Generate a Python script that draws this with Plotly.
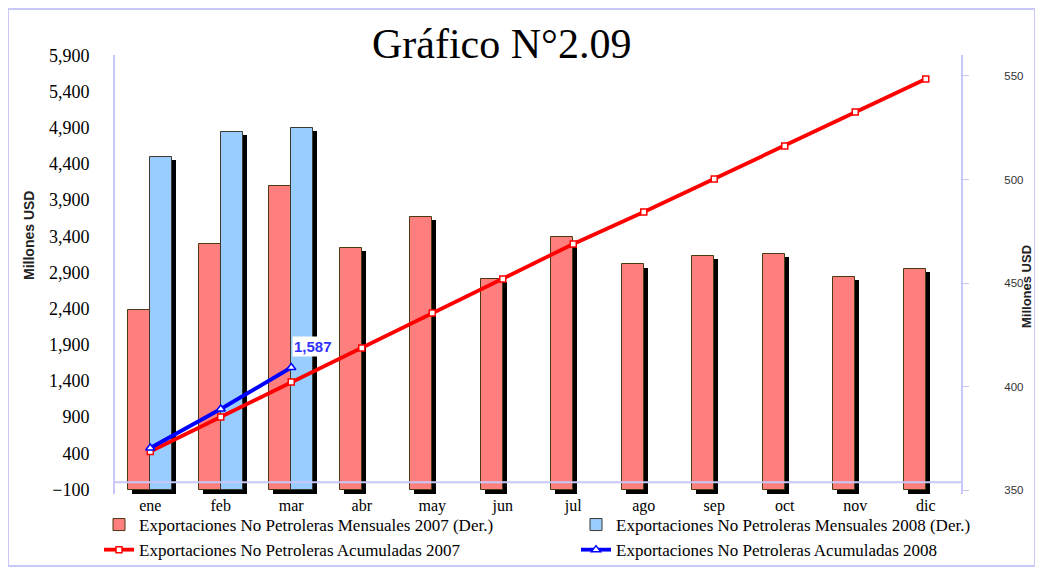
import plotly.graph_objects as go

# ---------------- data ----------------
months = ["ene", "feb", "mar", "abr", "may", "jun", "jul", "ago", "sep", "oct", "nov", "dic"]
mensual_2007 = [437, 469, 497, 467, 482, 452, 472, 459, 463, 464, 453, 457]
mensual_2008 = [511, 523, 525]
acum_2007 = [425, 902, 1386, 1856, 2340, 2810, 3294, 3737, 4193, 4649, 5119, 5575]
acum_2008 = [474, 1013, 1587]
left_ticks = [-100, 400, 900, 1400, 1900, 2400, 2900, 3400, 3900, 4400, 4900, 5400, 5900]
right_ticks = [350, 400, 450, 500, 550]

names = [
    "Exportaciones No Petroleras Mensuales 2007 (Der.)",
    "Exportaciones No Petroleras Mensuales 2008 (Der.)",
    "Exportaciones No Petroleras Acumuladas 2007",
    "Exportaciones No Petroleras Acumuladas 2008",
]

# ---------------- layout geometry (reference-window pixels) ----------------
W, H = 1043, 572
OFF = 8                      # default page body margin
FW, FH = W - OFF, H - OFF    # figure size
L, R, T, B = 115, 961, 55, 494   # plot area in window pixels


def xp(px):
    return (px - L) / (R - L)


def yp(py):
    return (B - py) / (B - T)


RED = "#ff7f7f"
BLUE = "#99ccff"
LAV = "#c8c8f8"
SERIF = "Liberation Serif, Times New Roman, serif"
SANS = "Liberation Sans, Arial, sans-serif"

bw = 0.312      # bar width in category units
sh_dx = 0.055   # shadow shift (category units)
sh_dy = 1.6     # shadow shift (right-axis units)
base = 350

fig = go.Figure()

# shadows (drawn first)
fig.add_trace(go.Bar(
    x=months, y=[v - sh_dy - (base - sh_dy - 2) for v in mensual_2007], base=base - sh_dy - 2,
    offset=-bw + sh_dx, width=bw, marker=dict(color="black", line=dict(width=0)),
    showlegend=False, hoverinfo="skip", yaxis="y"))
fig.add_trace(go.Bar(
    x=months[:len(mensual_2008)], y=[v - sh_dy - (base - sh_dy - 2) for v in mensual_2008],
    base=base - sh_dy - 2,
    offset=sh_dx, width=bw, marker=dict(color="black", line=dict(width=0)),
    showlegend=False, hoverinfo="skip", yaxis="y"))

# bars (right axis)
fig.add_trace(go.Bar(
    x=months, y=[v - base for v in mensual_2007], base=base, offset=-bw, width=bw,
    marker=dict(color=RED, line=dict(color="#4a3a10", width=1)),
    name=names[0], legendrank=1, yaxis="y",
    customdata=mensual_2007, hovertemplate="%{x}: %{customdata}<extra></extra>"))
fig.add_trace(go.Bar(
    x=months[:len(mensual_2008)], y=[v - base for v in mensual_2008], base=base, offset=0, width=bw,
    marker=dict(color=BLUE, line=dict(color="#3a3a30", width=1)),
    name=names[1], legendrank=2, yaxis="y",
    customdata=mensual_2008, hovertemplate="%{x}: %{customdata}<extra></extra>"))

# cumulative lines (left axis)
fig.add_trace(go.Scatter(
    x=months, y=acum_2007, mode="lines+markers", name=names[2], legendrank=3,
    line=dict(color="#ff0000", width=3.8),
    marker=dict(symbol="square", size=6, color="white", line=dict(color="#ff0000", width=1.5)),
    yaxis="y2"))
fig.add_trace(go.Scatter(
    x=months[:len(acum_2008)], y=acum_2008, mode="lines+markers", name=names[3], legendrank=4,
    line=dict(color="#0000ff", width=3.8),
    marker=dict(symbol="triangle-up", size=8, color="white", line=dict(color="#0000ff", width=1.5)),
    yaxis="y2"))

# data label for last 2008 cumulative value
fig.add_annotation(
    x=months[len(acum_2008) - 1], y=acum_2008[-1], xref="x", yref="y2",
    text="<b>{:,}</b>".format(acum_2008[-1]), showarrow=False,
    xanchor="center", yanchor="middle",
    xshift=22, yshift=21, bgcolor="white",
    font=dict(family=SANS, size=15, color="#3333ff"))

# title
fig.add_annotation(
    x=xp(501), y=yp(44), xref="paper", yref="paper", text="Gráfico N°2.09",
    xanchor="center", yanchor="middle",
    showarrow=False, font=dict(family=SERIF, size=42, color="black"))

# axis titles
fig.add_annotation(
    x=xp(29), y=yp(236), xref="paper", yref="paper", text="<b>Millones USD</b>",
    xanchor="center", yanchor="middle",
    textangle=-90, showarrow=False, font=dict(family=SANS, size=14, color="#222"))
fig.add_annotation(
    x=xp(1026), y=yp(287), xref="paper", yref="paper", text="<b>Millones USD</b>",
    xanchor="center", yanchor="middle",
    textangle=-90, showarrow=False, font=dict(family=SANS, size=13, color="#222"))

# zero line (category axis) on left scale
fig.add_shape(type="line", xref="paper", yref="y2", x0=0, x1=1, y0=0, y1=0,
              line=dict(color=LAV, width=2))
# outer frame
fig.add_shape(type="rect", xref="paper", yref="paper",
              x0=xp(8), x1=xp(1035), y0=yp(566), y1=yp(9),
              line=dict(color=LAV, width=2), layer="below")

fig.update_layout(
    width=FW, height=FH,
    margin=dict(l=L - OFF, r=W - R, t=T - OFF, b=H - B, autoexpand=False),
    paper_bgcolor="white", plot_bgcolor="white",
    barmode="overlay", bargap=0,
    showlegend=True,
    legend=dict(orientation="h", x=xp(99), y=yp(507), xanchor="left", yanchor="top",
                entrywidth=432, entrywidthmode="pixels", traceorder="normal",
                font=dict(family=SERIF, size=17, color="black"),
                bgcolor="rgba(0,0,0,0)", tracegroupgap=0, itemwidth=30),
    xaxis=dict(type="category", categoryorder="array", categoryarray=months,
               range=[-0.5, len(months) - 0.5], showline=False, showgrid=False,
               zeroline=False, ticks="", tickfont=dict(family=SERIF, size=16, color="black")),
    yaxis=dict(side="right", range=[348.07, 560.14], tickvals=right_ticks,
               showgrid=False, zeroline=False, showline=True, linecolor=LAV, linewidth=2,
               ticks="outside", ticklen=6, tickcolor=LAV, ticklabelstandoff=33,
               tickfont=dict(family=SANS, size=11.5, color="#333")),
    yaxis2=dict(side="left", overlaying="y", range=[-162, 5907], tickvals=left_ticks,
                tickformat=",", showgrid=False, zeroline=False, showline=True,
                linecolor=LAV, linewidth=2, ticks="", ticklabelstandoff=20,
                tickfont=dict(family=SERIF, size=18, color="black")),
)

fig.write_html("out.html")
